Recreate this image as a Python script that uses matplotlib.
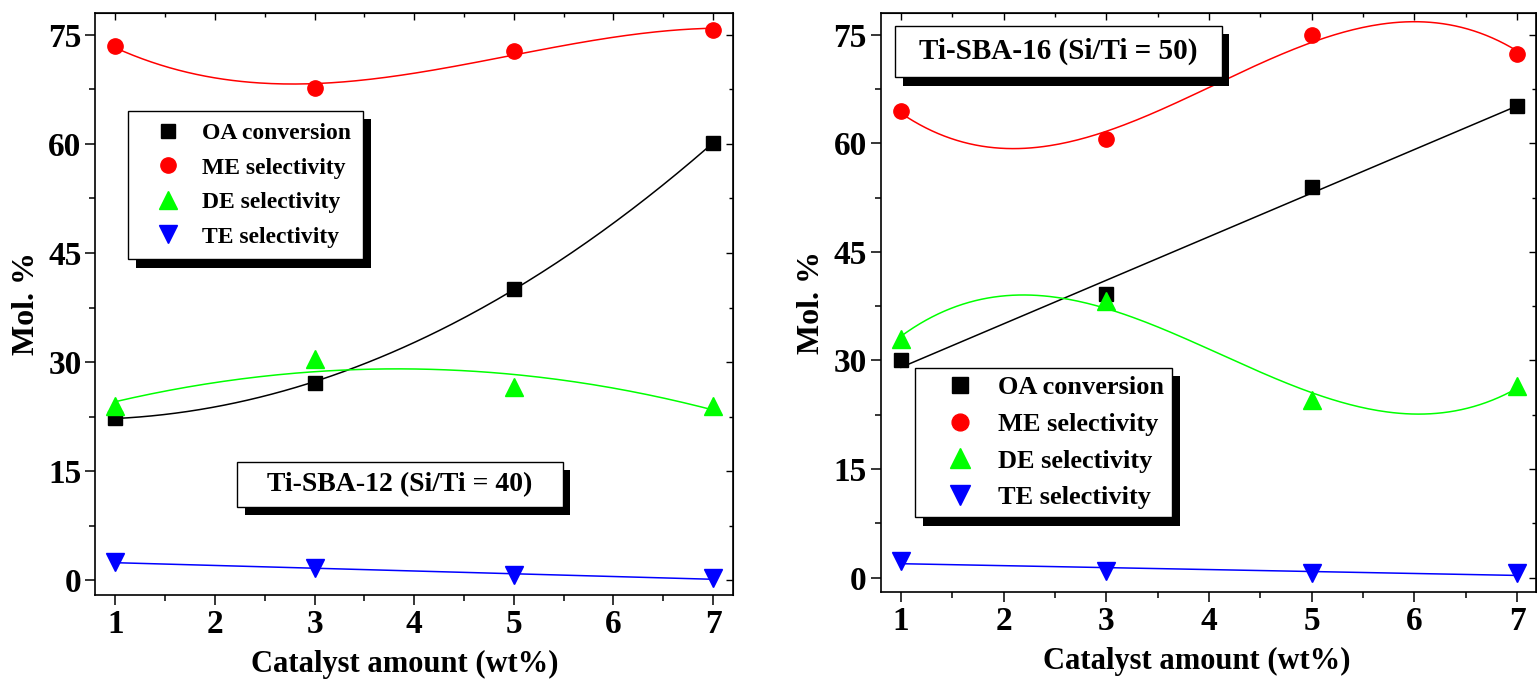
import matplotlib
matplotlib.use('Agg')
import matplotlib.pyplot as plt
import matplotlib.patheffects as pe
from matplotlib.patches import Rectangle
from matplotlib.ticker import MultipleLocator
import numpy as np

plt.rcParams['font.family'] = ['Liberation Serif', 'DejaVu Serif']
plt.rcParams['font.weight'] = 'bold'
plt.rcParams['axes.labelweight'] = 'bold'

# data
catalyst = [1, 3, 5, 7]
series_names = ['OA conversion', 'ME selectivity', 'DE selectivity', 'TE selectivity']

sba12_oa = [22.3, 27.2, 40.1, 60.1]
sba12_me = [73.4, 67.7, 72.8, 75.7]
sba12_de = [24.0, 30.4, 26.6, 24.0]
sba12_te = [2.5, 1.7, 0.7, 0.3]

sba16_oa = [30.0, 39.2, 54.0, 65.2]
sba16_me = [64.5, 60.6, 75.0, 72.4]
sba16_de = [33.0, 38.2, 24.5, 26.5]
sba16_te = [2.3, 0.9, 0.6, 0.6]

# smooth curve per series: polynomial degree, and for cubics how much of the
# cubic term is kept over the quadratic fit (Origin-style smoothing)
sba12_deg = [2, 3, 2, 1]
sba12_keep = [1, 0.7, 1, 1]
sba16_deg = [1, 3, 3, 1]
sba16_keep = [1, 0.8, 0.8, 1]

markers = ['s', 'o', '^', 'v']
colors = ['black', '#ff0000', '#00ff00', '#0000ff']
msizes = [10, 11, 13, 13]


def shadow(dx=5.5, dy=6):
    return [pe.SimplePatchShadow(offset=(dx, -dy), shadow_rgbFace='black', alpha=1.0),
            pe.Normal()]


def smooth_curve(xs, vals, deg, keep):
    curve = np.polyval(np.polyfit(catalyst, vals, deg), xs)
    if deg == 3:
        quad = np.polyval(np.polyfit(catalyst, vals, 2), xs)
        curve = quad + keep * (curve - quad)
    return curve


def draw_panel(ax, series, degrees, keeps, xlim, xlabel_x):
    xs = np.linspace(1, 7, 200)
    for vals, deg, k, name, m, c, s in zip(series, degrees, keeps, series_names,
                                           markers, colors, msizes):
        ax.plot(xs, smooth_curve(xs, vals, deg, k), color=c, lw=1.1, zorder=2)
        ax.plot(catalyst, vals, ls='none', marker=m, ms=s, color=c, mec=c,
                label=name, zorder=3)

    ax.set_xlim(*xlim)
    ax.set_ylim(-2, 78)
    ax.xaxis.set_major_locator(MultipleLocator(1))
    ax.xaxis.set_minor_locator(MultipleLocator(0.5))
    ax.yaxis.set_major_locator(MultipleLocator(15))
    ax.yaxis.set_minor_locator(MultipleLocator(7.5))
    ax.tick_params(which='major', direction='out', length=7, width=1.1,
                   labelsize=24, pad=3)
    ax.tick_params(which='minor', direction='out', length=4, width=1.1)
    for sp in ax.spines.values():
        sp.set_linewidth(1.2)

    # inward ticks on top and right
    top = ax.secondary_xaxis('top')
    top.xaxis.set_major_locator(MultipleLocator(1))
    top.xaxis.set_minor_locator(MultipleLocator(0.5))
    top.tick_params(which='both', direction='in', labeltop=False, width=1.0)
    top.tick_params(which='major', length=5)
    top.tick_params(which='minor', length=3)
    right = ax.secondary_yaxis('right')
    right.yaxis.set_major_locator(MultipleLocator(15))
    right.yaxis.set_minor_locator(MultipleLocator(7.5))
    right.tick_params(which='both', direction='in', labelright=False, width=1.0)
    right.tick_params(which='major', length=5)
    right.tick_params(which='minor', length=3)

    ax.set_xlabel('Catalyst amount (wt%)', fontsize=22)
    ax.xaxis.set_label_coords(xlabel_x, -0.095)
    ax.set_ylabel('Mol. %', fontsize=23, labelpad=5)


def title_box(ax, text, x0, y0, x1, y1, size):
    box = Rectangle((x0, y0), x1 - x0, y1 - y0, transform=ax.transAxes,
                    facecolor='white', edgecolor='black', lw=1.0, zorder=5)
    box.set_path_effects(shadow())
    ax.add_patch(box)
    ax.text((x0 + x1) / 2, (y0 + y1) / 2, text, transform=ax.transAxes,
            ha='center', va='center', fontsize=size, fontweight='bold', zorder=6)


fig = plt.figure(figsize=(15.37, 6.8), dpi=100)
ax1 = fig.add_axes([0.0621, 0.125, 0.4148, 0.856])
ax2 = fig.add_axes([0.5729, 0.1294, 0.4262, 0.8515])

draw_panel(ax1, [sba12_oa, sba12_me, sba12_de, sba12_te], sba12_deg, sba12_keep,
           (0.8, 7.2), 0.485)
draw_panel(ax2, [sba16_oa, sba16_me, sba16_de, sba16_te], sba16_deg, sba16_keep,
           (0.8, 7.18), 0.482)

leg1 = ax1.legend(loc='upper left', bbox_to_anchor=(0.051, 0.832), borderaxespad=0,
                  fontsize=17, fancybox=False, edgecolor='black', framealpha=1,
                  borderpad=0.5, handlelength=2.4, handletextpad=0.25,
                  labelspacing=0.55)
leg1.get_frame().set_linewidth(1.0)
leg1.get_frame().set_path_effects(shadow())
leg1.set_zorder(7)

leg2 = ax2.legend(loc='upper left', bbox_to_anchor=(0.053, 0.387), borderaxespad=0,
                  fontsize=19, fancybox=False, edgecolor='black', framealpha=1,
                  borderpad=0.3, handlelength=2.8, handletextpad=0.05,
                  labelspacing=0.5, markerscale=1.1)
leg2.get_frame().set_linewidth(1.0)
leg2.get_frame().set_path_effects(shadow())
leg2.set_zorder(7)

title_box(ax1, 'Ti-SBA-12 (Si/Ti = 40)', 0.222, 0.151, 0.733, 0.2285, 20)
title_box(ax2, 'Ti-SBA-16 (Si/Ti = 50)', 0.022, 0.889, 0.521, 0.978, 21)

fig.savefig('out.png', dpi=100, facecolor='white')
